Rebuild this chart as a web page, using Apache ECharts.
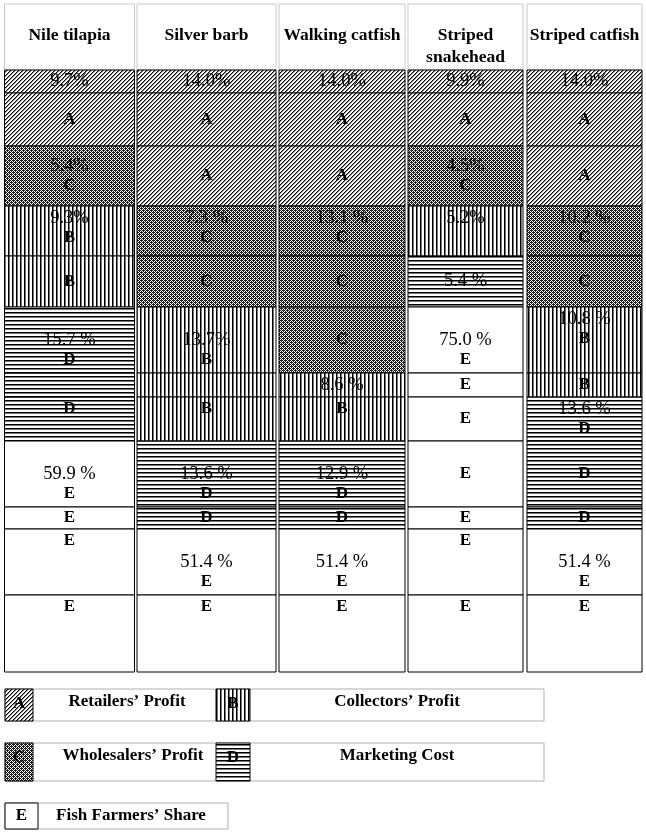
<!DOCTYPE html>
<html><head><meta charset="utf-8">
<script src="https://cdn.jsdelivr.net/npm/echarts@6/dist/echarts.min.js"></script>
<style>html,body{margin:0;padding:0;background:#fff}#c{width:646px;height:833px}</style>
</head><body><div id="c"></div>
<script>
// ---------------- DATA ----------------
const fishNames = ['Nile tilapia', 'Silver barb', 'Walking catfish', 'Striped\nsnakehead', 'Striped catfish'];
const shareCodes = ['A', 'B', 'C', 'D', 'E'];
const shareNames = ['Retailers’ Profit', 'Collectors’ Profit', 'Wholesalers’ Profit', 'Marketing Cost', 'Fish Farmers’ Share'];
// share of consumer price (%), in order A, B, C, D, E
const nileTilapia      = [9.7, 9.3, 5.4, 15.7, 59.9];
const silverBarb       = [14.0, 13.7, 7.3, 13.6, 51.4];
const walkingCatfish   = [14.0, 8.6, 13.1, 12.9, 51.4];
const stripedSnakehead = [9.9, 5.2, 4.5, 5.4, 75.0];
const stripedCatfish   = [14.0, 10.8, 10.2, 13.6, 51.4];
// table rows occupied by each share, top to bottom
const nileRows    = ['A','A','C','B','B','D','D','D','E','E','E','E'];
const silverRows  = ['A','A','A','C','C','B','B','B','D','D','E','E'];
const walkingRows = ['A','A','A','C','C','C','B','B','D','D','E','E'];
const snakeRows   = ['A','A','C','B','D','E','E','E','E','E','E','E'];
const catfishRows = ['A','A','A','C','C','B','B','D','D','D','E','E'];
// cell texts ('#' stands for the share value of that cell)
const nileText    = ['#%','A','#%\nC','#%\nB','B','# %\nD','','D','# %\nE','E','E','E'];
const silverText  = ['#%','A','A','# %\nC','C','#%\nB','','B','# %\nD','D','# %\nE','E'];
const walkingText = ['#%','A','A','# %\nC','C','C','# %','B','# %\nD','D','# %\nE','E'];
const snakeText   = ['#%','A','#%\nC','#%','# %','# %\nE','E','E','E','E','E','E'];
const catfishText = ['#%','A','A','# %\nC','C','# %\nB','B','# %\nD','D','D','# %\nE','E'];

const shares = [nileTilapia, silverBarb, walkingCatfish, stripedSnakehead, stripedCatfish];
const rowsByFish = [nileRows, silverRows, walkingRows, snakeRows, catfishRows];
const textByFish = [nileText, silverText, walkingText, snakeText, catfishText];

// ---------------- LAYOUT ----------------
const COL_X = [[4.5,134.5],[137,276],[279,405],[408,523],[527,642]];
const ROW_Y = [4,70,93,146,206,256,307,373,397,441,507,529,595,672];
const TEXT_POS = [
  ['m','m','m','t','m','f','m','t','f','m','t','t'],
  ['m','m','m','t','m','f','m','t','f','m','f','t'],
  ['m','m','m','t','m','m','m','t','f','m','f','t'],
  ['m','m','m','t','m','f','m','m','m','m','t','t'],
  ['m','m','m','t','m','t','m','t','m','m','f','t']
];
const LH = 20;
const FONT_PCT = '18.5px "Liberation Serif"';
const FONT_LET = 'bold 17px "Liberation Serif"';
const FONT_HEAD = 'bold 17.5px "Liberation Serif"';
const FONT_LEG = 'bold 17px "Liberation Serif"';

function makePattern(code) {
  const c = document.createElement('canvas');
  const ctx = c.getContext('2d');
  c.width = 4; c.height = 4;
  ctx.fillStyle = '#fff'; ctx.fillRect(0,0,4,4);
  if (code === 'A') {
    for (let x = 0; x < 4; x++) for (let y = 0; y < 4; y++) {
      const k = (x + y) % 4;
      if (k === 0) { ctx.fillStyle = '#000'; ctx.fillRect(x, y, 1, 1); }
      if (k === 1) { ctx.fillStyle = '#8a8a8a'; ctx.fillRect(x, y, 1, 1); }
    }
  } else if (code === 'B') {
    ctx.fillStyle = '#000'; ctx.fillRect(0,0,1,4);
    ctx.fillStyle = '#777'; ctx.fillRect(1,0,1,4);
  } else if (code === 'C') {
    for (let x = 0; x < 4; x++) for (let y = 0; y < 4; y++) {
      if ((x + y) % 2 === 0 || (x === 1 && y === 0) || (x === 3 && y === 2)) {
        ctx.fillStyle = '#1a1a1a'; ctx.fillRect(x, y, 1, 1);
      }
    }
  } else if (code === 'D') {
    ctx.fillStyle = '#000'; ctx.fillRect(0,0,4,1);
    ctx.fillStyle = '#777'; ctx.fillRect(0,1,4,1);
  } else {
    return '#fff';
  }
  return { image: c, repeat: 'repeat' };
}
const PATTERNS = {};
shareCodes.forEach(k => PATTERNS[k] = makePattern(k));

const cells = [];
for (let i = 0; i < fishNames.length; i++) for (let r = 0; r < ROW_Y.length - 1; r++) cells.push([i, r]);

function renderItem(params, api) {
  const i = api.value(0), r = api.value(1);
  const p0 = api.coord([COL_X[i][0], ROW_Y[r]]);
  const p1 = api.coord([COL_X[i][1], ROW_Y[r + 1]]);
  const x = p0[0], y = p0[1], w = p1[0] - p0[0], h = p1[1] - p0[1];
  const cx = x + w / 2;
  const children = [];
  if (r === 0) {
    children.push({ type: 'rect', shape: { x, y, width: w, height: h }, style: { fill: '#fff', stroke: '#c8c8c8', lineWidth: 1 } });
    fishNames[i].split('\n').forEach((t, k) => {
      children.push({ type: 'text', style: { text: t, x: cx, y: y + 31 + k * 22, align: 'center', verticalAlign: 'middle', font: FONT_HEAD, fill: '#000' } });
    });
  } else {
    const code = rowsByFish[i][r - 1];
    const val = shares[i][shareCodes.indexOf(code)];
    children.push({ type: 'rect', shape: { x, y, width: w, height: h }, style: { fill: PATTERNS[code], stroke: '#000', lineWidth: 1 } });
    const txt = textByFish[i][r - 1];
    if (txt) {
      const lines = txt.replace('#', val.toFixed(1)).split('\n');
      const pos = TEXT_POS[i][r - 1];
      let y0;
      if (pos === 't') y0 = y + 12;
      else if (pos === 'f') y0 = y + h / 2;
      else y0 = y + h / 2 - (lines.length - 1) * LH / 2;
      lines.forEach((t, k) => {
        const isLetter = shareCodes.indexOf(t) >= 0;
        children.push({ type: 'text', style: { text: t, x: cx, y: y0 + k * LH, align: 'center', verticalAlign: 'middle', font: isLetter ? FONT_LET : FONT_PCT, fill: '#000' } });
      });
    }
  }
  return { type: 'group', children };
}

// legend (graphic)
const LEG_ROWS = [
  { y0: 689, y1: 721, right: 544, items: [[0, 5, 33, 127], [1, 216, 250, 397]] },
  { y0: 743, y1: 781, right: 544, items: [[2, 5, 33, 133], [3, 216, 250, 397]] },
  { y0: 803, y1: 829, right: 228, items: [[4, 5, 38, 131]] }
];
const graphics = [];
LEG_ROWS.forEach(row => {
  graphics.push({ type: 'rect', shape: { x: 5, y: row.y0, width: row.right - 5, height: row.y1 - row.y0 }, style: { fill: '#fff', stroke: '#b0b0b0', lineWidth: 1 } });
  row.items.forEach(([k, bx0, bx1, tx]) => {
    const code = shareCodes[k];
    graphics.push({ type: 'rect', shape: { x: bx0, y: row.y0, width: bx1 - bx0, height: row.y1 - row.y0 }, style: { fill: PATTERNS[code], stroke: '#000', lineWidth: 1 } });
    graphics.push({ type: 'text', style: { text: code, x: (bx0 + bx1) / 2, y: row.y0 + Math.min(15, (row.y1 - row.y0) / 2), align: 'center', verticalAlign: 'middle', font: FONT_LET, fill: '#000' } });
    graphics.push({ type: 'text', style: { text: shareNames[k], x: tx, y: row.y0 + 12.5, align: 'center', verticalAlign: 'middle', font: FONT_LEG, fill: '#000' } });
  });
});

const chart = echarts.init(document.getElementById('c'));
chart.setOption({
  animation: false,
  backgroundColor: '#fff',
  grid: { left: 0, right: 0, top: 0, bottom: 0 },
  xAxis: { type: 'value', min: 0, max: 646, show: false },
  yAxis: { type: 'value', min: 0, max: 833, inverse: true, show: false },
  series: [{ type: 'custom', renderItem, data: cells, clip: false, silent: true }],
  graphic: graphics
});
</script></body></html>
